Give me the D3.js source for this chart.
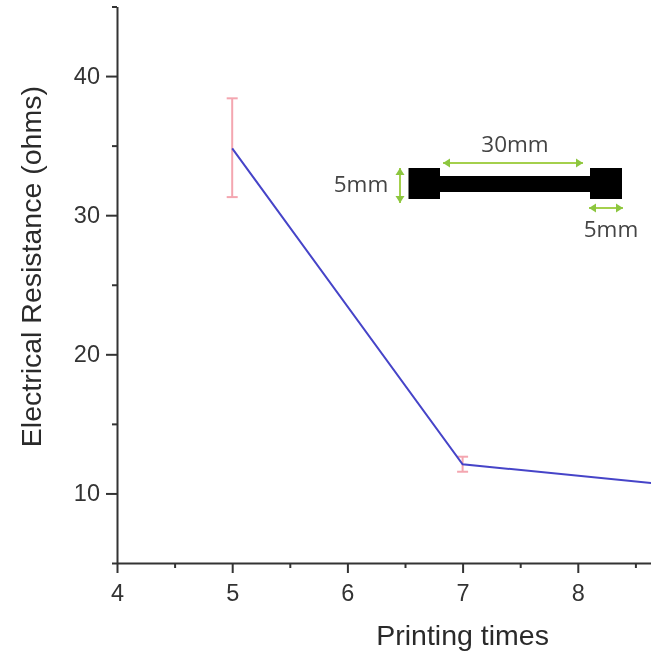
<!DOCTYPE html>
<html>
<head>
<meta charset="utf-8">
<script src="https://cdn.jsdelivr.net/npm/d3@7"></script>
<style>
  html, body { margin: 0; padding: 0; background: #fff; }
  svg { display: block; filter: blur(0.45px); }
  .axis text { font-family: "Liberation Sans", Arial, sans-serif; font-size: 23.5px; fill: #333; }
  .axis path, .axis line { stroke: #333; stroke-width: 2px; }
  .title { font-family: "Liberation Sans", Arial, sans-serif; font-size: 28.5px; fill: #2a2a2a; text-anchor: middle; }
  .inset text { font-family: "Open Sans", sans-serif; font-size: 22.5px; fill: #444; }
</style>
</head>
<body>
<svg width="651" height="657"></svg>
<script>
// values
const printingTimes = [5, 7, 9];
const resistance = [34.8, 12.1, 10.45];
const errLow = [31.3, 11.56, 10.45];
const errHigh = [38.4, 12.64, 10.45];

const xMajor = [4, 5, 6, 7, 8];
const xMinor = [4.5, 5.5, 6.5, 7.5, 8.5];
const yMajor = [10, 20, 30, 40];
const yMinor = [5, 15, 25, 35, 45];

const svg = d3.select("svg"),
    x = d3.scaleLinear().domain([4, 9]).range([117, 693]),
    y = d3.scaleLinear().domain([5, 45]).range([563, 6.5]);

const rows = printingTimes.map((t, i) => ({t: t, r: resistance[i], lo: errLow[i], hi: errHigh[i]}));

// minor ticks first, major ones carry the labels
svg.append("g").attr("class", "axis")
    .attr("transform", "translate(0," + y(5) + ")")
    .call(d3.axisBottom(x).tickValues(xMinor).tickSize(5).tickFormat(""))
    .call(g => g.select(".domain").remove());
svg.append("g").attr("class", "axis")
    .attr("transform", "translate(" + x(4) + ",0)")
    .call(d3.axisLeft(y).tickValues(yMinor).tickSize(5).tickFormat(""))
    .call(g => g.select(".domain").remove());

svg.append("g").attr("class", "axis")
    .attr("transform", "translate(0," + y(5) + ")")
    .call(d3.axisBottom(x).tickValues(xMajor).tickSize(10).tickSizeOuter(0).tickPadding(11).tickFormat(d3.format("d")));
svg.append("g").attr("class", "axis")
    .attr("transform", "translate(" + x(4) + ",0)")
    .call(d3.axisLeft(y).tickValues(yMajor).tickSize(11).tickSizeOuter(0).tickPadding(6).tickFormat(d3.format("d")));

svg.append("text").attr("class", "title")
    .attr("x", x(7)).attr("y", 645)
    .text("Printing times");
svg.append("text").attr("class", "title")
    .attr("transform", "translate(41," + y(26.3) + ") rotate(-90)")
    .text("Electrical Resistance (ohms)");

// error bars
const err = svg.append("g").attr("stroke", "#f4a6b0").attr("stroke-width", 2).attr("fill", "none");
rows.filter(d => d.hi > d.lo).forEach(d => {
    err.append("line").attr("x1", x(d.t)).attr("x2", x(d.t)).attr("y1", y(d.lo)).attr("y2", y(d.hi));
    [d.lo, d.hi].forEach(v => {
        err.append("line").attr("x1", x(d.t) - 5.5).attr("x2", x(d.t) + 5.5).attr("y1", y(v)).attr("y2", y(v));
    });
});

const line = d3.line().x(d => x(d.t)).y(d => y(d.r));
svg.append("path").datum(rows)
    .attr("d", line)
    .attr("fill", "none")
    .attr("stroke", "#4644c8")
    .attr("stroke-width", 2);

// inset sketch of the printed sample
const inset = svg.append("g").attr("class", "inset");
inset.append("rect").attr("x", 408.5).attr("y", 168).attr("width", 31.5).attr("height", 31);
inset.append("rect").attr("x", 590).attr("y", 168).attr("width", 32).attr("height", 31);
inset.append("rect").attr("x", 440).attr("y", 176).attr("width", 150).attr("height", 16);

function arrow(x1, y1, x2, y2) {
    const a = Math.atan2(y2 - y1, x2 - x1), g = inset.append("g");
    g.append("line").attr("x1", x1).attr("y1", y1).attr("x2", x2).attr("y2", y2)
        .attr("stroke", "#a4d04c").attr("stroke-width", 2);
    [[x1, y1, a + Math.PI], [x2, y2, a]].forEach(p => {
        g.append("path")
            .attr("transform", "translate(" + p[0] + "," + p[1] + ") rotate(" + p[2] * 180 / Math.PI + ")")
            .attr("d", "M0,0L-7,-4.5L-7,4.5Z")
            .attr("fill", "#8cc63f");
    });
}
arrow(443, 163, 583, 163);
arrow(400, 168, 400, 203);
arrow(589, 208, 623, 208);

inset.append("text").attr("x", 515).attr("y", 152).attr("text-anchor", "middle").text("30mm");
inset.append("text").attr("x", 361).attr("y", 192).attr("text-anchor", "middle").text("5mm");
inset.append("text").attr("x", 611).attr("y", 237).attr("text-anchor", "middle").text("5mm");
</script>
</body>
</html>
